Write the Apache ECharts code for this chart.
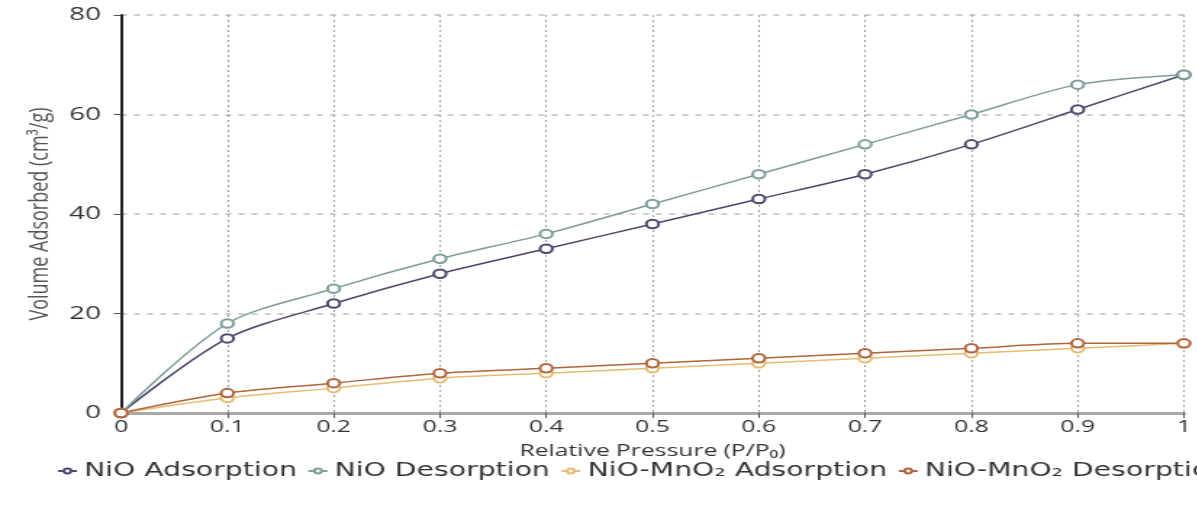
<!DOCTYPE html>
<html>
<head>
<meta charset="utf-8">
<script src="https://cdn.jsdelivr.net/npm/echarts@6/dist/echarts.min.js"></script>
<style>
  html, body { margin: 0; padding: 0; background: #fff; overflow: hidden; }
  /* the figure is laid out narrow and widened horizontally */
  #chart { width: 826px; height: 505px; transform: scaleX(1.45); transform-origin: 0 0; }
</style>
</head>
<body>
<div id="chart"></div>
<script>
// Relative pressure points (P/P0)
const pressure = [0, 0.1, 0.2, 0.3, 0.4, 0.5, 0.6, 0.7, 0.8, 0.9, 1];

// Volume adsorbed (cm3/g) for each isotherm branch
const nioAdsorption = [0, 15, 22, 28, 33, 38, 43, 48, 54, 61, 68];
const nioDesorption = [0, 18, 25, 31, 36, 42, 48, 54, 60, 66, 68];
const mnoAdsorption = [0, 3, 5, 7, 8, 9, 10, 11, 12, 13, 14];
const mnoDesorption = [0, 4, 6, 8, 9, 10, 11, 12, 13, 14, 14];

const seriesNames = [
  'NiO Adsorption',
  'NiO Desorption',
  'NiO-MnO\u2082 Adsorption',
  'NiO-MnO\u2082 Desorption'
];
const seriesColors = ['#4a4a6e', '#7d9e9c', '#e6bd72', '#b0653f'];
const seriesValues = [nioAdsorption, nioDesorption, mnoAdsorption, mnoDesorption];

const font = '"Open Sans", "Noto Sans", sans-serif';

const chart = echarts.init(document.getElementById('chart'));
chart.setOption({
  animation: false,
  backgroundColor: '#fff',
  grid: { left: 83.5, right: 9.5, top: 15, bottom: 92, containLabel: false },
  legend: {
    bottom: 19,
    left: 34,
    width: 1400,
    itemGap: 7,
    itemWidth: 13,
    itemHeight: 6,
    textStyle: { fontFamily: '"DejaVu Sans", sans-serif', fontSize: 19.5, color: '#333' },
    data: seriesNames
  },
  xAxis: {
    type: 'value',
    min: 0,
    max: 1,
    interval: 0.1,
    name: 'Relative Pressure (P/P\u2080)',
    nameLocation: 'middle',
    nameGap: 30,
    nameTextStyle: { fontFamily: font, fontSize: 17, color: '#333' },
    axisLine: { show: true, lineStyle: { color: '#a9a9a9', width: 3 } },
    axisTick: { show: true, length: 5, lineStyle: { color: '#555' } },
    axisLabel: {
      fontFamily: font, fontSize: 17, color: '#333', margin: 6,
      formatter: v => String(Math.round(v * 10) / 10)
    },
    splitLine: { show: true, lineStyle: { color: '#999', type: [2, 3], width: 1 } }
  },
  yAxis: {
    type: 'value',
    min: 0,
    max: 80,
    interval: 20,
    name: 'Volume Adsorbed (cm\u00b3/g)',
    nameLocation: 'middle',
    nameGap: 47,
    nameTextStyle: { fontFamily: font, fontSize: 18, color: '#555' },
    axisLine: { show: true, lineStyle: { color: '#222', width: 2 } },
    axisTick: { show: true, length: 5, lineStyle: { color: '#555' } },
    axisLabel: { fontFamily: font, fontSize: 19, color: '#333', margin: 14 },
    splitLine: { show: true, lineStyle: { color: '#bdbdbd', type: [4, 5], width: 1.5 } }
  },
  series: seriesNames.map((name, i) => ({
    name: name,
    type: 'line',
    smooth: 0.3,
    symbol: 'emptyCircle',
    symbolSize: 8.5,
    color: seriesColors[i],
    lineStyle: { width: 1.5, color: seriesColors[i] },
    itemStyle: { color: seriesColors[i], borderWidth: 1.3 },
    data: pressure.map((p, j) => [p, seriesValues[i][j]])
  }))
});
</script>
</body>
</html>
